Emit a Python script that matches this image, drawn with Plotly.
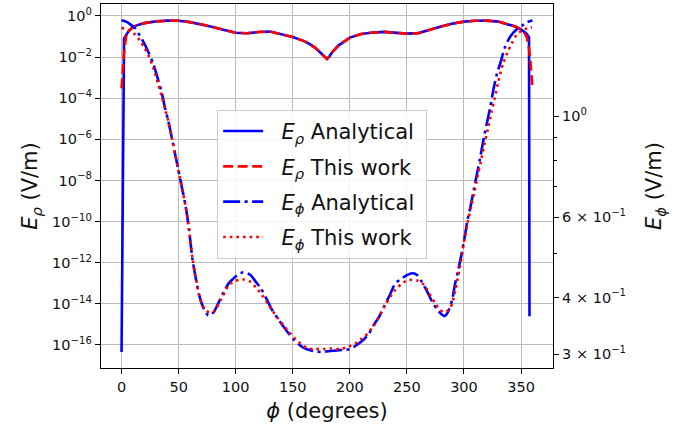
import plotly.graph_objects as go

# ---------------- data ----------------
phi_rho_ana = [0, 2.2, 4, 6, 10, 15, 20, 30, 40, 45, 50, 60, 70, 80, 90, 100, 110, 120, 130,
               140, 150, 160, 165, 170, 175, 178, 180, 182, 185, 190, 200, 210, 220, 230, 240,
               250, 260, 270, 280, 290, 300, 310, 320, 330, 338, 345, 350, 353, 355, 357, 357.4]
erho_ana = [4.6e-17, 0.082, 0.117, 0.173, 0.286, 0.378, 0.447, 0.541, 0.591, 0.59, 0.578, 0.500,
            0.391, 0.292, 0.205, 0.151, 0.143, 0.164, 0.173, 0.131, 0.0935, 0.0598, 0.0428,
            0.0273, 0.0148, 0.00946, 0.00818, 0.01057, 0.0185, 0.0362, 0.0885, 0.131, 0.155,
            0.167, 0.155, 0.138, 0.146, 0.216, 0.303, 0.423, 0.529, 0.578, 0.591, 0.529, 0.409,
            0.303, 0.22, 0.17, 0.134, 0.09, 2.5e-15]

phi_rho_work = [0, 1, 2, 3, 4, 6, 10, 15, 20, 30, 40, 45, 50, 60, 70, 80, 90, 100, 110, 120, 130,
                140, 150, 160, 165, 170, 175, 178, 180, 182, 185, 190, 200, 210, 220, 230, 240,
                250, 260, 270, 280, 290, 300, 310, 320, 330, 338, 345, 350, 353, 355, 357, 358,
                359, 360]
erho_work = [3.05e-4, 2.5e-3, 0.012, 0.04, 0.099, 0.183, 0.286, 0.378, 0.447, 0.541, 0.591, 0.59,
             0.578, 0.500, 0.391, 0.292, 0.205, 0.151, 0.143, 0.164, 0.173, 0.131, 0.0935,
             0.0598, 0.0428, 0.0273, 0.0148, 0.00946, 0.00818, 0.01057, 0.0185, 0.0362, 0.0885,
             0.131, 0.155, 0.167, 0.155, 0.138, 0.146, 0.216, 0.303, 0.423, 0.529, 0.578, 0.591,
             0.529, 0.409, 0.303, 0.22, 0.146, 0.091, 0.026, 0.0085, 1.8e-3, 3.2e-4]

phi_ephi_ana = [0, 4, 8, 12, 16, 20, 24, 28, 32, 35, 38, 41, 44, 47, 50, 53, 56, 59, 62, 65, 68,
                71, 74, 76, 78, 81, 84, 87, 90, 94, 98, 102, 106, 110, 113, 117, 122, 127, 132,
                137, 142, 147, 151, 156, 160, 166, 171, 177, 183, 189, 195, 200, 206, 212, 217,
                221, 226, 230, 235, 240, 245, 250, 255, 259, 263, 268, 272, 277, 280, 283, 286,
                289.6, 292, 295, 298, 301, 303, 306, 308.5, 311.5, 314.3, 317, 320, 323, 326,
                329, 332, 336, 340, 343, 346.5, 351, 355, 360]
ephi_ana = [1.627, 1.615, 1.591, 1.560, 1.505, 1.446, 1.375, 1.300, 1.205, 1.134, 1.046, 0.975,
            0.899, 0.825, 0.758, 0.695, 0.638, 0.568, 0.488, 0.441, 0.405, 0.383, 0.370, 0.365,
            0.366, 0.372, 0.385, 0.399, 0.413, 0.430, 0.440, 0.449, 0.454, 0.452, 0.448, 0.435,
            0.419, 0.397, 0.375, 0.359, 0.345, 0.332, 0.323, 0.3146, 0.3094, 0.306, 0.304,
            0.3038, 0.305, 0.306, 0.307, 0.308, 0.3146, 0.323, 0.334, 0.348, 0.364, 0.382,
            0.405, 0.430, 0.439, 0.448, 0.452, 0.448, 0.433, 0.411, 0.392, 0.375, 0.368, 0.364,
            0.372, 0.395, 0.426, 0.46, 0.50, 0.55, 0.59, 0.638, 0.688, 0.750, 0.813, 0.886,
            0.965, 1.046, 1.152, 1.243, 1.313, 1.42, 1.49, 1.525, 1.557, 1.584, 1.610, 1.624]

phi_ephi_work = [0, 4, 8, 12, 16, 20, 24, 28, 32, 35, 38, 41, 44, 47, 50, 53, 56, 59, 62, 65, 68,
                 71, 74, 77, 81, 87, 94, 98, 103, 107, 113, 118, 123, 132, 137, 142, 147, 151,
                 156, 163, 170, 177, 183, 192, 199, 205, 210, 215, 220, 224, 231, 236, 240, 246,
                 252, 259, 265, 271, 275, 279, 284, 288, 292.5, 297, 300, 303, 306, 309, 312,
                 315, 318, 321, 324, 327, 330, 334, 338, 342, 346, 350, 355, 359.6]
ephi_work = [1.567, 1.551, 1.536, 1.513, 1.468, 1.417, 1.354, 1.274, 1.181, 1.112, 1.041, 0.975,
             0.899, 0.825, 0.758, 0.695, 0.638, 0.568, 0.490, 0.443, 0.405, 0.385, 0.374, 0.371,
             0.373, 0.395, 0.426, 0.433, 0.437, 0.438, 0.433, 0.420, 0.405, 0.375, 0.360, 0.347,
             0.335, 0.327, 0.318, 0.3094, 0.308, 0.308, 0.309, 0.308, 0.312, 0.317, 0.324,
             0.332, 0.344, 0.357, 0.385, 0.403, 0.416, 0.430, 0.437, 0.436, 0.426, 0.402, 0.388,
             0.375, 0.372, 0.379, 0.416, 0.476, 0.53, 0.58, 0.63, 0.68, 0.74, 0.80, 0.87, 0.94,
             1.02, 1.10, 1.19, 1.30, 1.38, 1.45, 1.51, 1.54, 1.56, 1.570]

x_ticks = [0, 50, 100, 150, 200, 250, 300, 350]
left_tickvals = [1e0, 1e-2, 1e-4, 1e-6, 1e-8, 1e-10, 1e-12, 1e-14, 1e-16]
left_ticktext = ["10<sup>0</sup>", "10<sup>−2</sup>", "10<sup>−4</sup>", "10<sup>−6</sup>",
                 "10<sup>−8</sup>", "10<sup>−10</sup>", "10<sup>−12</sup>", "10<sup>−14</sup>",
                 "10<sup>−16</sup>"]
right_tickvals = [0.3, 0.4, 0.6, 1.0]
right_ticktext = ["3 × 10<sup>−1</sup>", "4 × 10<sup>−1</sup>", "6 × 10<sup>−1</sup>",
                  "10<sup>0</sup>"]
right_minor = [0.5, 0.7, 0.8, 0.9]

names = ["\u00a0\u00a0<i>E</i><sub><i>ρ</i></sub> Analytical\u00a0",
         "\u00a0\u00a0<i>E</i><sub><i>ρ</i></sub> This work\u00a0",
         "\u00a0\u00a0<i>E</i><sub><i>ϕ</i></sub> Analytical\u00a0",
         "\u00a0\u00a0<i>E</i><sub><i>ϕ</i></sub> This work\u00a0"]

# ---------------- figure ----------------
BLUE = "#0000ff"
RED = "#ff0000"
LW = 2.6
FONT = "DejaVu Sans"
GRID = "#bcbcbc"

fig = go.Figure()
fig.add_trace(go.Scatter(x=phi_rho_ana, y=erho_ana, mode="lines", name=names[0],
                         line=dict(color=BLUE, width=LW), yaxis="y", legendgroup="a"))
fig.add_trace(go.Scatter(x=phi_rho_work, y=erho_work, mode="lines", name=names[1],
                         line=dict(color=RED, width=LW, dash="10px,4.5px"), yaxis="y",
                         legendgroup="b"))
fig.add_trace(go.Scatter(x=phi_ephi_ana, y=ephi_ana, mode="lines", name=names[2],
                         line=dict(color=BLUE, width=LW, dash="17px,4.5px,3px,4.5px",
                                   shape="spline", smoothing=0.8),
                         yaxis="y2", legendgroup="c"))
fig.add_trace(go.Scatter(x=phi_ephi_work, y=ephi_work, mode="lines", name=names[3],
                         line=dict(color=RED, width=LW, dash="2.6px,4px",
                                   shape="spline", smoothing=0.8),
                         yaxis="y2", legendgroup="d"))

axis_common = dict(showline=True, linecolor="black", linewidth=1.4, ticks="outside",
                   ticklen=5, tickwidth=1.2, tickcolor="black",
                   tickfont=dict(family=FONT, size=14.5, color="#111"))

fig.update_layout(
    width=683, height=429,
    margin=dict(l=101, r=130, t=4, b=61, autoexpand=False),
    paper_bgcolor="white", plot_bgcolor="white",
    font=dict(family=FONT, color="#111"),
    xaxis=dict(range=[-18, 378], tickvals=x_ticks, showgrid=True, gridcolor=GRID,
               gridwidth=1, zeroline=False, mirror=True,
               title=dict(text="<i>ϕ</i> (degrees)", font=dict(family=FONT, size=21),
                          standoff=9),
               **axis_common),
    yaxis=dict(type="log", range=[-17.12, 0.58], tickvals=left_tickvals,
               ticktext=left_ticktext, showgrid=True, gridcolor=GRID, gridwidth=1,
               zeroline=False,
               title=dict(text="<i>E</i><sub><i>ρ</i></sub> (V/m)",
                          font=dict(family=FONT, size=21), standoff=8),
               **axis_common),
    yaxis2=dict(type="log", range=[-0.553, 0.247], overlaying="y", side="right",
                tickmode="array", tickvals=right_tickvals, ticktext=right_ticktext,
                showgrid=False, zeroline=False,
                minor=dict(tickmode="array", tickvals=right_minor, ticklen=3, tickwidth=1,
                           tickcolor="black", ticks="outside", showgrid=False),
                title=dict(text="<i>E</i><sub><i>ϕ</i></sub> (V/m)",
                           font=dict(family=FONT, size=21), standoff=21),
                **axis_common),
    legend=dict(x=0.257, y=0.709, xanchor="left", yanchor="top",
                bgcolor="rgba(255,255,255,0.85)", bordercolor="#cccccc", borderwidth=1,
                font=dict(family=FONT, size=21, color="#111"), tracegroupgap=5,
                itemwidth=40),
    showlegend=True,
)

fig.write_html("out.html", config={"displayModeBar": False},
               post_script="document.body.style.margin='0px';")
